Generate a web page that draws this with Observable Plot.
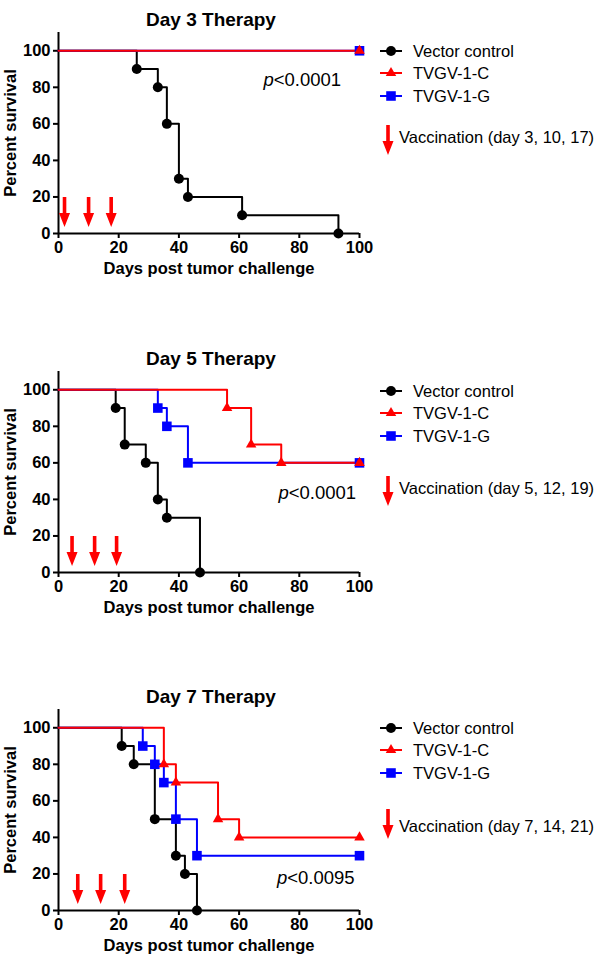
<!DOCTYPE html>
<html>
<head>
<meta charset="utf-8">
<script src="https://cdn.jsdelivr.net/npm/d3@7"></script>
<script src="https://cdn.jsdelivr.net/npm/@observablehq/plot@0.6"></script>
<style>
  body { margin: 0; background: #fff; font-family: "Liberation Sans", Arial, sans-serif; }
  #root { position: relative; width: 597px; height: 960px; overflow: hidden; background: #fff; }
  .panel { position: absolute; left: 0; width: 597px; height: 284px; }
  .panel > svg { position: absolute; left: 0; top: 0; }
  .leg { position: absolute; font-size: 16.5px; color: #000; transform: translateY(-50%); white-space: nowrap; line-height: 1.15; }
  .sym { position: absolute; }
</style>
</head>
<body>
<div id="root"></div>
<script>
// ---------- data ----------
const panelTitles = ["Day 3 Therapy", "Day 5 Therapy", "Day 7 Therapy"];
const seriesNames = ["Vector control", "TVGV-1-C", "TVGV-1-G"];
const seriesColors = ["#000000", "#ff0000", "#0000ff"];
const seriesSymbols = ["circle", "triangle", "square"];
const xTicks = [0, 20, 40, 60, 80, 100];
const yTicks = [0, 20, 40, 60, 80, 100];
const xLabel = "Days post tumor challenge";
const yLabel = "Percent survival";

// Day 3 therapy
const day3ControlDays = [0, 26, 33, 36, 40, 43, 61, 93];
const day3ControlPct  = [100, 90, 80, 60, 30, 20, 10, 0];
const day3CDays = [0, 100];
const day3CPct  = [100, 100];
const day3GDays = [0, 100];
const day3GPct  = [100, 100];

// Day 5 therapy
const day5ControlDays = [0, 19, 22, 29, 33, 36, 47];
const day5ControlPct  = [100, 90, 70, 60, 40, 30, 0];
const day5CDays = [0, 56, 64, 74, 100];
const day5CPct  = [100, 90, 70, 60, 60];
const day5GDays = [0, 33, 36, 43, 100];
const day5GPct  = [100, 90, 80, 60, 60];

// Day 7 therapy
const day7ControlDays = [0, 21, 25, 32, 39, 42, 46];
const day7ControlPct  = [100, 90, 80, 50, 30, 20, 0];
const day7CDays = [0, 35, 39, 53, 60, 100];
const day7CPct  = [100, 80, 70, 50, 40, 40];
const day7GDays = [0, 28, 32, 35, 39, 46, 100];
const day7GPct  = [100, 90, 80, 70, 50, 30, 30];

const pLabels = ["<0.0001", "<0.0001", "<0.0095"];
const pLabelDay = [71.5, 76.5, 76];
const pLabelPct = [84, 43.5, 17.5];
const vaccinationLabels = ["Vaccination (day 3, 10, 17)", "Vaccination (day 5, 12, 19)", "Vaccination (day 7, 14, 21)"];
const vaccinationArrowDays = [[2, 10, 17.5], [4.5, 12, 19.3], [6.4, 14, 22]];
const vaccinationArrowTopPct = 20;

const panelSeries = [
  [[day3ControlDays, day3ControlPct], [day3CDays, day3CPct], [day3GDays, day3GPct]],
  [[day5ControlDays, day5ControlPct], [day5CDays, day5CPct], [day5GDays, day5GPct]],
  [[day7ControlDays, day7ControlPct], [day7CDays, day7CPct], [day7GDays, day7GPct]]
];

// ---------- layout ----------
const FONT = '"Liberation Sans", Arial, sans-serif';
const panelTops = [0, 339, 677];
const legendRows = [[51, 73, 95.5], [51.7, 74.3, 97], [50.7, 73, 96.3]];
const legendVaccY = [136.7, 149.3, 148.7];
const legendArrowTop = [125, 137, 132];
const symbolR = {circle: 5, triangle: 3.9, square: 5.4};
const drawOrder = [0, 2, 1];

const arrowShape = {
  draw(context, l) {
    const hw = 5.5, hl = 14, sw = 1.8;
    context.moveTo(-sw, 0);
    context.lineTo(sw, 0);
    context.lineTo(sw, -(l - hl));
    context.lineTo(hw, -(l - hl));
    context.lineTo(0, -l);
    context.lineTo(-hw, -(l - hl));
    context.lineTo(-sw, -(l - hl));
    context.closePath();
  }
};

const root = document.getElementById("root");

function legendSymbolSvg(color, symbol) {
  const ns = "http://www.w3.org/2000/svg";
  const svg = document.createElementNS(ns, "svg");
  svg.setAttribute("width", 26);
  svg.setAttribute("height", 16);
  const line = document.createElementNS(ns, "line");
  line.setAttribute("x1", 2); line.setAttribute("x2", 24);
  line.setAttribute("y1", 8); line.setAttribute("y2", 8);
  line.setAttribute("stroke", color); line.setAttribute("stroke-width", 2);
  svg.appendChild(line);
  const path = document.createElementNS(ns, "path");
  const sym = {circle: d3.symbolCircle, triangle: d3.symbolTriangle, square: d3.symbolSquare}[symbol];
  const r = symbolR[symbol];
  path.setAttribute("d", d3.symbol(sym, r * r * Math.PI)());
  path.setAttribute("transform", "translate(13,8)");
  path.setAttribute("fill", color);
  svg.appendChild(path);
  return svg;
}

function legendArrowSvg() {
  const ns = "http://www.w3.org/2000/svg";
  const svg = document.createElementNS(ns, "svg");
  svg.setAttribute("width", 14);
  svg.setAttribute("height", 32);
  const path = document.createElementNS(ns, "path");
  const p = d3.path();
  arrowShape.draw(p, 30);
  path.setAttribute("d", p.toString());
  path.setAttribute("transform", "translate(7,0) rotate(180)");
  path.setAttribute("fill", "#ff0000");
  svg.appendChild(path);
  return svg;
}

panelTitles.forEach((title, i) => {
  const panel = document.createElement("div");
  panel.className = "panel";
  panel.style.top = panelTops[i] + "px";
  root.appendChild(panel);

  const rowsBySeries = panelSeries[i].map(([days, pct]) => days.map((d, k) => ({day: d, pct: pct[k]})));

  const lineMarks = drawOrder.map(s => Plot.line(rowsBySeries[s], {
    x: "day", y: "pct", curve: "step-after", stroke: seriesColors[s], strokeWidth: 2
  }));
  const dotMarks = drawOrder.map(s => Plot.dot(rowsBySeries[s].slice(1), {
    x: "day", y: "pct", symbol: seriesSymbols[s], r: symbolR[seriesSymbols[s]], fill: seriesColors[s], stroke: "none"
  }));

  const plot = Plot.plot({
    width: 597,
    height: 284,
    marginLeft: 58,
    marginRight: 238,
    marginTop: 32,
    marginBottom: 51,
    style: {fontFamily: FONT, fontSize: "16px", fontWeight: "bold", color: "#000", background: "transparent", overflow: "visible"},
    x: {domain: [0, 100]},
    y: {domain: [0, 110]},
    marks: [
      Plot.axisX({ticks: xTicks, tickSize: 5, tickPadding: 3, strokeWidth: 2, label: null, fontSize: 16.5}),
      Plot.axisY({ticks: yTicks, tickSize: 5, tickPadding: 3, strokeWidth: 2, label: null, fontSize: 16.5}),
      Plot.ruleX([0], {strokeWidth: 2}),
      Plot.ruleY([0], {strokeWidth: 2}),
      Plot.text([xLabel], {text: d => d, frameAnchor: "bottom", dy: 40, fontSize: 16.5}),
      Plot.text([yLabel], {text: d => d, frameAnchor: "left", textAnchor: "middle", dx: -48, rotate: -90, fontSize: 16.5}),
      Plot.text([title], {text: d => d, frameAnchor: "top", dy: -20, dx: 2, fontSize: 19}),
      Plot.vector(vaccinationArrowDays[i], {
        x: d => d, y: () => vaccinationArrowTopPct, length: 30, rotate: 180, anchor: "start",
        shape: arrowShape, fill: "#ff0000", stroke: "none"
      }),
      ...lineMarks,
      ...dotMarks,
      Plot.text([pLabels[i]], {x: () => pLabelDay[i], y: () => pLabelPct[i], text: () => "p", textAnchor: "end", fontStyle: "italic", fontWeight: "normal", fontSize: 18.5}),
      Plot.text([pLabels[i]], {x: () => pLabelDay[i], y: () => pLabelPct[i], text: d => d, textAnchor: "start", fontWeight: "normal", fontSize: 18.5})
    ]
  });
  panel.appendChild(plot);

  // legend
  seriesNames.forEach((name, s) => {
    const y = legendRows[i][s];
    const sym = legendSymbolSvg(seriesColors[s], seriesSymbols[s]);
    sym.setAttribute("class", "sym");
    sym.style.left = "378px";
    sym.style.top = (y - 8) + "px";
    panel.appendChild(sym);
    const t = document.createElement("div");
    t.className = "leg";
    t.style.left = "413px";
    t.style.top = y + "px";
    t.textContent = name;
    panel.appendChild(t);
  });
  const arr = legendArrowSvg();
  arr.setAttribute("class", "sym");
  arr.style.left = "381px";
  arr.style.top = legendArrowTop[i] + "px";
  panel.appendChild(arr);
  const vt = document.createElement("div");
  vt.className = "leg";
  vt.style.left = "399px";
  vt.style.top = legendVaccY[i] + "px";
  vt.textContent = vaccinationLabels[i];
  panel.appendChild(vt);
});
</script>
</body>
</html>
